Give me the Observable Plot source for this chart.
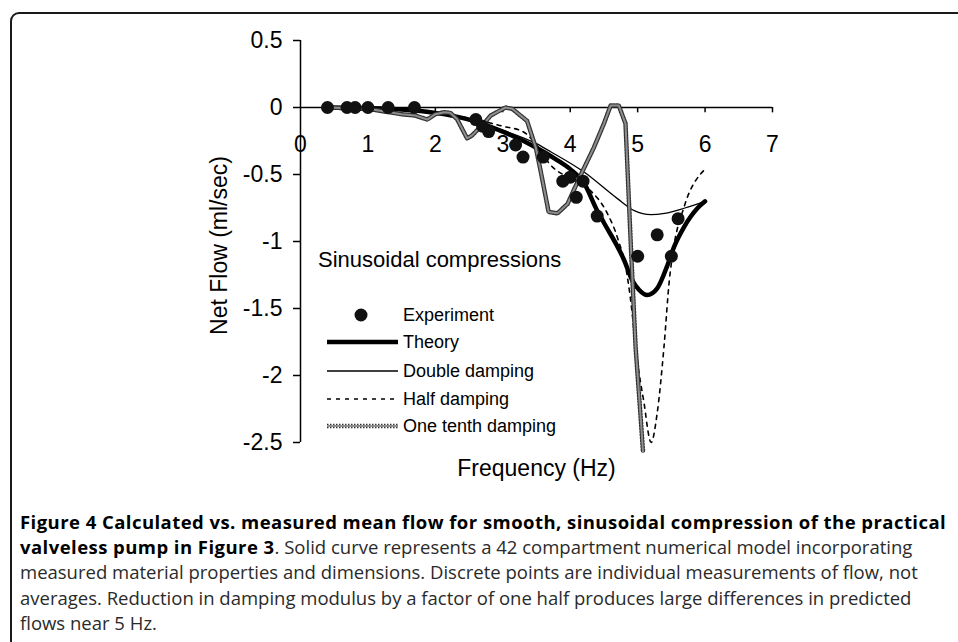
<!DOCTYPE html>
<html>
<head>
<meta charset="utf-8">
<script src="https://cdn.jsdelivr.net/npm/d3@7"></script>
<script src="https://cdn.jsdelivr.net/npm/@observablehq/plot@0.6"></script>
<style>
  html, body { margin: 0; padding: 0; background: #fff; overflow: hidden; }
  #wrap { position: relative; width: 958px; height: 642px; overflow: hidden; }
  #frame { position: absolute; left: 10px; top: 12px; right: -30px; bottom: -30px;
           border: 2px solid #1a1a1a; border-radius: 9px; }
  #chart { position: absolute; left: 0; top: 0; }
  #legend { position: absolute; left: 0; top: 0; pointer-events: none; }
  #caption { position: absolute; left: 20px; top: 509px; font-family: "Open Sans", sans-serif;
             font-size: 18.5px; line-height: 25.2px; color: #2a2a2a; white-space: nowrap; }
  #caption b { color: #000; letter-spacing: 0.45px; }
</style>
</head>
<body>
<div id="wrap">
  <div id="frame"></div>
  <div id="chart"></div>
  <svg id="legend" width="958" height="495"></svg>
  <div id="caption">
    <b>Figure 4 Calculated vs. measured mean flow for smooth, sinusoidal compression of the practical</b><br>
    <b>valveless pump in Figure 3</b>. Solid curve represents a 42 compartment numerical model incorporating<br>
    measured material properties and dimensions. Discrete points are individual measurements of flow, not<br>
    averages. Reduction in damping modulus by a factor of one half produces large differences in predicted<br>
    flows near 5 Hz.
  </div>
</div>
<script>
// ---------- data ----------
const xTicks = [0, 1, 2, 3, 4, 5, 6, 7];
const yTicks = [0.5, 0, -0.5, -1, -1.5, -2, -2.5];

const expFreq = [0.40, 0.69, 0.81, 1.00, 1.30, 1.69, 2.60, 2.70, 2.79, 3.19, 3.30, 3.60, 3.89, 4.00, 4.09, 4.19, 4.40, 5.00, 5.29, 5.50, 5.60];
const expFlow = [0, 0, 0, 0, 0, 0, -0.09, -0.14, -0.18, -0.28, -0.37, -0.37, -0.55, -0.52, -0.67, -0.55, -0.81, -1.11, -0.95, -1.11, -0.83];

const theoryFreq = [0.4, 1.0, 1.5, 2.0, 2.5, 3.0, 3.5, 3.8, 4.0, 4.2, 4.4, 4.5, 4.8, 4.92, 5.02, 5.14, 5.29, 5.44, 5.54, 5.69, 5.89, 6.0];
const theoryFlow = [0, -0.005, -0.015, -0.04, -0.09, -0.18, -0.30, -0.39, -0.46, -0.56, -0.77, -0.86, -1.14, -1.29, -1.36, -1.40, -1.35, -1.18, -1.04, -0.89, -0.75, -0.70];

const doubleFreq = [0.4, 1.0, 1.5, 2.0, 2.5, 3.0, 3.5, 3.71, 4.2, 4.7, 4.95, 5.2, 5.4, 5.7, 6.0];
const doubleFlow = [0, -0.005, -0.015, -0.04, -0.09, -0.17, -0.27, -0.33, -0.48, -0.68, -0.77, -0.80, -0.79, -0.75, -0.70];

const halfFreq = [0.4, 1.0, 1.5, 2.0, 2.5, 3.0, 3.3, 3.5, 3.71, 4.0, 4.3, 4.55, 4.7, 4.85, 4.92, 4.97, 5.09, 5.2, 5.29, 5.39, 5.47, 5.52, 5.69, 6.0];
const halfFlow = [0, -0.005, -0.015, -0.04, -0.08, -0.14, -0.18, -0.28, -0.43, -0.53, -0.62, -0.79, -0.97, -1.27, -1.54, -1.79, -2.19, -2.50, -2.28, -1.79, -1.29, -1.09, -0.74, -0.46];

const tenthFreq = [0.4, 1.0, 1.5, 1.7, 1.88, 2.0, 2.13, 2.22, 2.32, 2.47, 2.54, 2.72, 2.82, 3.04, 3.14, 3.36, 3.49, 3.56, 3.68, 3.81, 3.96, 4.15, 4.35, 4.50, 4.60, 4.72, 4.82, 4.90, 4.97, 5.04, 5.08];
const tenthFlow = [0, -0.01, -0.05, -0.06, -0.09, -0.05, -0.035, -0.04, -0.085, -0.23, -0.21, -0.12, -0.06, 0.0, -0.01, -0.10, -0.30, -0.47, -0.78, -0.79, -0.72, -0.51, -0.30, -0.12, 0.015, 0.015, -0.12, -1.04, -1.79, -2.28, -2.57];

const seriesNames = ["Experiment", "Theory", "Double damping", "Half damping", "One tenth damping"];
const titleText = "Sinusoidal compressions";

// ---------- tables ----------
const toRows = (xs, ys) => xs.map((x, i) => ({x, y: ys[i]}));
const experiment = toRows(expFreq, expFlow);
const theory = toRows(theoryFreq, theoryFlow);
const dbl = toRows(doubleFreq, doubleFlow);
const half = toRows(halfFreq, halfFlow);
const tenth = toRows(tenthFreq, tenthFlow);

const styles = {
  "Theory": {stroke: "#000", strokeWidth: 4.5},
  "Double damping": {stroke: "#000", strokeWidth: 1.3},
  "Half damping": {stroke: "#000", strokeWidth: 1.6, strokeDasharray: "4,5"},
  "One tenth damping": {stroke: "#333", strokeWidth: 4.5, strokeDasharray: "1.5,1.5"},
  "One tenth inner": {stroke: "#8e8e8e", strokeWidth: 2}
};

const chart = Plot.plot({
  width: 958,
  height: 495,
  marginLeft: 300,
  marginRight: 186,
  marginTop: 40,
  marginBottom: 53,
  x: {domain: [0, 7], axis: null},
  y: {domain: [-2.5, 0.5]},
  style: {fontFamily: "'Liberation Sans', Arial, sans-serif", fontSize: "23px", color: "#000", background: "transparent"},
  marks: [
    Plot.ruleX([0], {strokeWidth: 1.5}),
    Plot.axisY({ticks: yTicks, tickSize: 7, tickPadding: 11, tickFormat: d => String(d), fontSize: 23, label: null, strokeWidth: 1.5}),
    Plot.ruleY([0], {strokeWidth: 1.5}),
    Plot.ruleX(xTicks.filter(d => d > 0), {x: d => d, y1: 0, y2: -0.04, strokeWidth: 1.5}),
    Plot.text(xTicks, {x: d => d, y: 0, text: d => String(d), dy: 37, fontSize: 23}),
    Plot.line(dbl, {x: "x", y: "y", curve: "monotone-x", ...styles["Double damping"]}),
    Plot.line(half, {x: "x", y: "y", curve: "monotone-x", ...styles["Half damping"]}),
    Plot.line(theory, {x: "x", y: "y", curve: "monotone-x", ...styles["Theory"]}),
    Plot.line(tenth, {x: "x", y: "y", ...styles["One tenth damping"]}),
    Plot.line(tenth, {x: "x", y: "y", ...styles["One tenth inner"]}),
    Plot.dot(experiment, {x: "x", y: "y", r: 6.5, fill: "#111", stroke: "none"}),
    Plot.text(["Frequency (Hz)"], {frameAnchor: "bottom", dy: 33, fontSize: 23}),
    Plot.text(["Net Flow (ml/sec)"], {frameAnchor: "left", textAnchor: "middle", rotate: -90, dx: -81, dy: 4, fontSize: 23})
  ]
});
document.getElementById("chart").appendChild(chart);

// ---------- legend overlay ----------
const lg = d3.select("#legend");
const font = "'Liberation Sans', Arial, sans-serif";
lg.append("text").attr("x", 318).attr("y", 259).attr("dy", "0.35em")
  .attr("font-family", font).attr("font-size", 22).text(titleText);
const rowY = [315, 342, 371, 399, 426];
seriesNames.forEach((name, i) => {
  const y = rowY[i];
  if (name === "Experiment") {
    lg.append("circle").attr("cx", 361).attr("cy", y).attr("r", 6.5).attr("fill", "#111");
  } else {
    const layers = name === "One tenth damping" ? [styles[name], styles["One tenth inner"]] : [styles[name]];
    layers.forEach(s => {
      lg.append("line").attr("x1", 327).attr("x2", 398).attr("y1", y).attr("y2", y)
        .attr("stroke", s.stroke).attr("stroke-width", s.strokeWidth)
        .attr("stroke-dasharray", s.strokeDasharray || null);
    });
  }
  lg.append("text").attr("x", 403).attr("y", y).attr("dy", "0.35em")
    .attr("font-family", font).attr("font-size", 18).text(name);
});
</script>
</body>
</html>
